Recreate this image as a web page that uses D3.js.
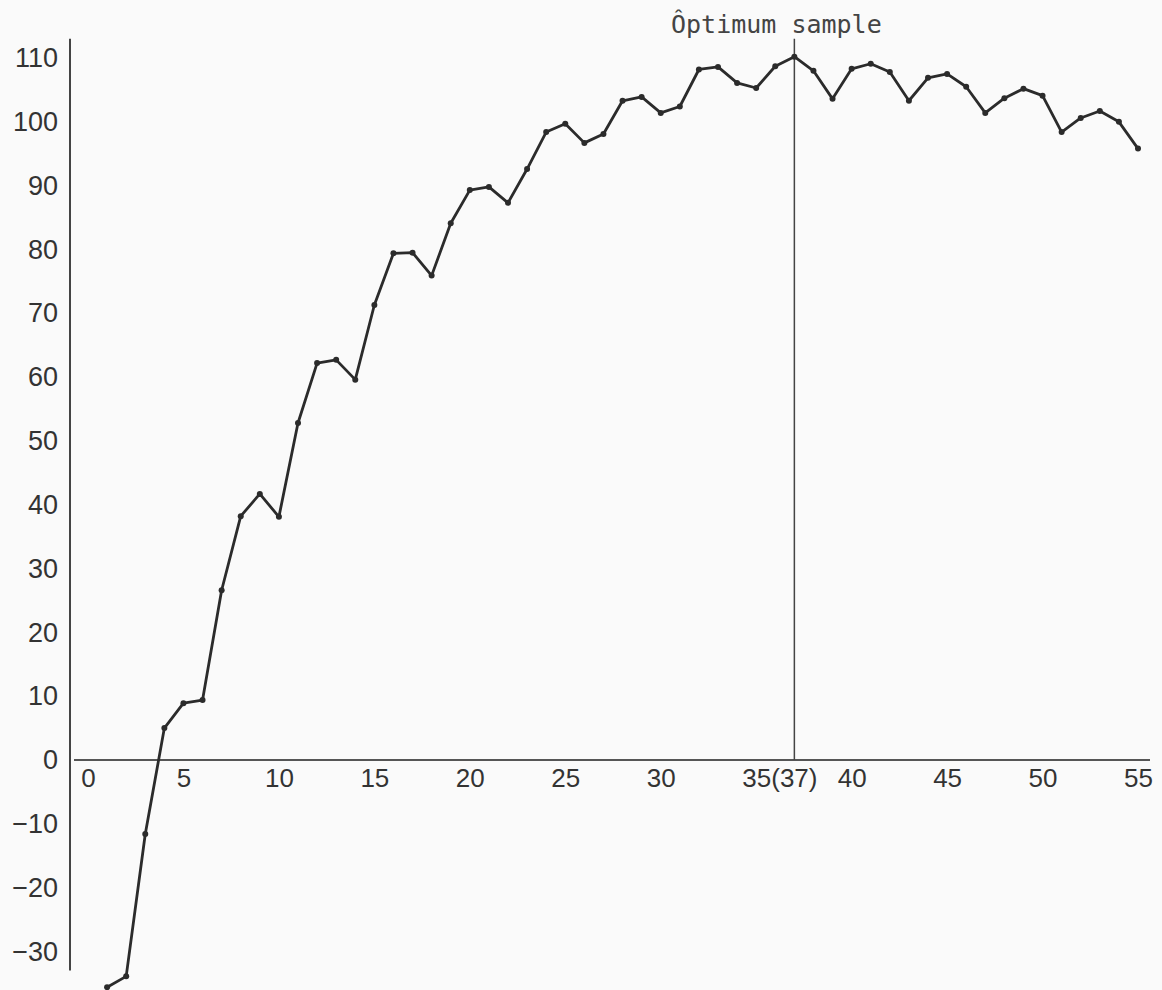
<!DOCTYPE html>
<meta charset='utf-8'>
<style>
  body { margin: 0; background: #fafafa; }
  svg { display: block; background: #fafafa; }
  .tick text { fill: #333; font-family: "Liberation Sans", Arial, sans-serif; }
  .ylab .tick text { font-size: 27px; }
  .xlab .tick text { font-size: 26px; }
  .series { fill: none; stroke: #2b2b2b; stroke-width: 2.8; stroke-linejoin: round; }
  .dot { fill: #2b2b2b; }
</style>

<svg width="1162" height="990"></svg>

<script src="https://d3js.org/d3.v7.min.js"></script>
<script>

// sample number (x) and value (y)
var samples = d3.range(1, 56);
var values = [
  -35.6, -33.9, -11.6, 5.0, 8.9, 9.4, 26.6, 38.2, 41.7, 38.1,
  52.8, 62.2, 62.7, 59.6, 71.3, 79.4, 79.5, 75.9, 84.1, 89.3,
  89.8, 87.3, 92.6, 98.4, 99.7, 96.7, 98.1, 103.3, 103.9, 101.4,
  102.4, 108.2, 108.6, 106.1, 105.3, 108.7, 110.2, 108.0, 103.6, 108.3,
  109.1, 107.8, 103.3, 106.9, 107.5, 105.5, 101.4, 103.7, 105.2, 104.1,
  98.4, 100.6, 101.7, 100.0, 95.8
];
var xTicks = [0, 5, 10, 15, 20, 25, 30, 35, 40, 45, 50, 55];
var yTicks = [-30, -20, -10, 0, 10, 20, 30, 40, 50, 60, 70, 80, 90, 100, 110];
var optimum = 37;
var optimumLabel = "Ôptimum sample";

var svg = d3.select("svg");

var x = d3.scaleLinear().domain([0, 55]).range([88, 1138]);
var y = d3.scaleLinear().domain([0, 110]).range([760, 58]);

// y axis line (drawn a bit longer than the data, as on the paper)
svg.append("line")
  .attr("x1", 70).attr("x2", 70)
  .attr("y1", y(113)).attr("y2", y(-33))
  .style("stroke", "#444").style("stroke-width", 2);

// x axis line at zero
svg.append("line")
  .attr("x1", 74).attr("x2", x(55) + 12)
  .attr("y1", y(0)).attr("y2", y(0))
  .style("stroke", "#555").style("stroke-width", 2);

var yAxis = svg.append("g")
  .attr("class", "ylab")
  .attr("transform", "translate(70,0)")
  .call(d3.axisLeft(y).tickValues(yTicks).tickSize(0).tickPadding(12));
yAxis.select(".domain").remove();

var xAxis = svg.append("g")
  .attr("class", "xlab")
  .attr("transform", "translate(0," + y(0) + ")")
  .call(d3.axisBottom(x).tickValues(xTicks).tickSize(0).tickPadding(9));
xAxis.select(".domain").remove();

// (37) under the optimum line
svg.append("text")
  .attr("x", x(optimum))
  .attr("y", y(0) + 9)
  .attr("dy", "0.71em")
  .attr("text-anchor", "middle")
  .style("font-family", "Liberation Sans, Arial, sans-serif")
  .style("font-size", "26px")
  .style("fill", "#333")
  .text("(" + optimum + ")");

// optimum vertical line
svg.append("line")
  .attr("x1", x(optimum)).attr("x2", x(optimum))
  .attr("y1", y(113)).attr("y2", y(0))
  .style("stroke", "#444").style("stroke-width", 1.5);

svg.append("text")
  .attr("x", x(optimum) - 18)
  .attr("y", 33)
  .attr("text-anchor", "middle")
  .style("font-family", "DejaVu Sans Mono, monospace")
  .style("font-size", "25px")
  .style("fill", "#444")
  .text(optimumLabel);

var line = d3.line()
  .x(function(d, i) { return x(samples[i]); })
  .y(function(d) { return y(d); });

svg.append("path")
  .datum(values)
  .attr("class", "series")
  .attr("d", line);

svg.selectAll(".dot")
  .data(values)
  .enter()
  .append("circle")
  .attr("class", "dot")
  .attr("cx", function(d, i) { return x(samples[i]); })
  .attr("cy", function(d) { return y(d); })
  .attr("r", 3);

</script>
